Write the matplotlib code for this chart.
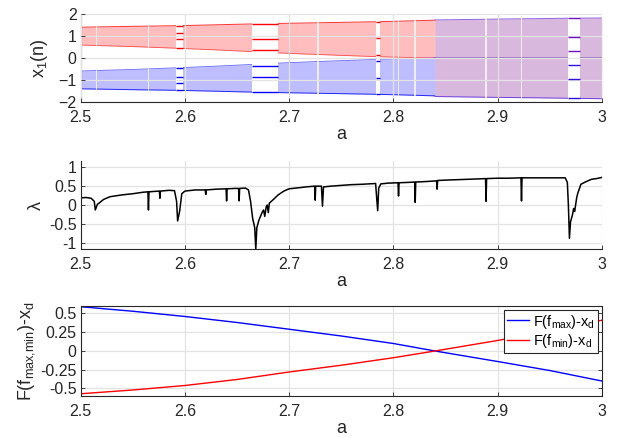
import matplotlib
matplotlib.use("Agg")
import matplotlib.pyplot as plt
import numpy as np

plt.rcParams['font.family'] = ['Liberation Sans', 'DejaVu Sans']
plt.rcParams['mathtext.fontset'] = 'custom'
plt.rcParams['mathtext.rm'] = 'Liberation Sans'
plt.rcParams['mathtext.it'] = 'Liberation Sans:italic'

# ---------------- data ----------------
x_ticks = [2.5, 2.6, 2.7, 2.8, 2.9, 3.0]
x_ticklabels = ['2.5', '2.6', '2.7', '2.8', '2.9', '3']

# top panel: chaotic band envelopes before merging
red_a = [2.50, 2.55, 2.595, 2.63, 2.665, 2.70, 2.75, 2.785, 2.81, 2.84]
red_top = [1.40, 1.44, 1.47, 1.51, 1.55, 1.58, 1.62, 1.65, 1.68, 1.72]
red_bot = [0.59, 0.52, 0.44, 0.37, 0.29, 0.21, 0.12, 0.06, 0.03, 0.00]
blue_top = [-0.59, -0.52, -0.44, -0.37, -0.29, -0.21, -0.12, -0.06, -0.03, 0.00]
blue_bot = [-1.40, -1.44, -1.47, -1.51, -1.55, -1.58, -1.62, -1.65, -1.68, -1.72]
# after merging crisis
merged_a = [2.84, 2.87, 2.90, 2.94, 2.968, 3.00]
merged_top = [1.73, 1.75, 1.77, 1.79, 1.81, 1.82]
merged_bot = [-1.75, -1.77, -1.79, -1.81, -1.83, -1.85]
# periodic windows
win_start = [2.591, 2.664, 2.7835, 2.968]
win_end = [2.598, 2.689, 2.7875, 2.979]
win_levels = [[1.47, 1.15, 0.88, 0.47],
              [1.53, 0.88, 0.36],
              [1.65, 0.90, 0.12],
              [1.81, 0.94, 0.32]]
# thin white gaps (narrow windows)
thin_gaps = [2.515, 2.565, 2.728, 2.805, 2.821, 2.889, 2.923]

# middle panel: Lyapunov exponent
lyap_a = [2.500, 2.505, 2.510, 2.513, 2.514, 2.516, 2.518, 2.522, 2.528, 2.535,
          2.540, 2.550, 2.560, 2.5645, 2.565, 2.5655, 2.570, 2.5755, 2.576, 2.5765,
          2.585, 2.590, 2.592, 2.593, 2.595, 2.597, 2.600, 2.610, 2.6195, 2.620,
          2.6205, 2.630, 2.6395, 2.640, 2.6405, 2.648, 2.6515, 2.652, 2.6525, 2.658,
          2.661, 2.663, 2.665, 2.667, 2.668, 2.669, 2.671, 2.674, 2.6755, 2.6766,
          2.678, 2.679, 2.680, 2.681, 2.685, 2.6895, 2.695, 2.700, 2.710, 2.716,
          2.7245, 2.725, 2.7255, 2.731, 2.732, 2.733, 2.740, 2.750, 2.760, 2.770,
          2.783, 2.784, 2.785, 2.786, 2.788, 2.795, 2.8045, 2.805, 2.8055, 2.815,
          2.8205, 2.821, 2.8215, 2.830, 2.8415, 2.842, 2.8425, 2.850, 2.860, 2.870,
          2.880, 2.8885, 2.889, 2.8895, 2.900, 2.910, 2.9225, 2.923, 2.9235, 2.935,
          2.950, 2.965, 2.967, 2.968, 2.969, 2.970, 2.972, 2.973, 2.974, 2.976,
          2.977, 2.980, 2.985, 2.990, 2.995, 3.000]
lyap_v = [0.19, 0.20, 0.18, 0.10, -0.13, 0.02, 0.06, 0.15, 0.22, 0.25,
          0.27, 0.30, 0.34, 0.35, -0.13, 0.35, 0.36, 0.37, 0.18, 0.37,
          0.39, 0.38, 0.10, -0.42, -0.15, 0.30, 0.37, 0.40, 0.40, 0.28,
          0.40, 0.42, 0.43, 0.11, 0.43, 0.44, 0.44, 0.11, 0.44, 0.45,
          0.40, 0.10, -0.35, -0.60, -1.17, -0.60, -0.40, -0.20, -0.13, -0.30,
          -0.05, 0.00, -0.20, 0.05, 0.15, 0.27, 0.37, 0.43, 0.46, 0.48,
          0.50, 0.13, 0.50, 0.50, -0.03, 0.48, 0.50, 0.52, 0.54, 0.55,
          0.57, 0.20, -0.15, 0.45, 0.56, 0.58, 0.59, 0.24, 0.59, 0.60,
          0.61, 0.07, 0.61, 0.62, 0.64, 0.42, 0.65, 0.66, 0.67, 0.68,
          0.69, 0.70, 0.10, 0.70, 0.71, 0.71, 0.72, 0.11, 0.72, 0.72,
          0.72, 0.72, 0.60, 0.00, -0.88, -0.45, -0.25, -0.09, -0.17, 0.20,
          0.31, 0.55, 0.62, 0.68, 0.70, 0.73]

# bottom panel
crit_a = [2.50, 2.55, 2.60, 2.65, 2.70, 2.75, 2.80, 2.84, 2.90, 2.95, 3.00]
fmax_minus_xd = [0.59, 0.53, 0.46, 0.38, 0.29, 0.20, 0.10, 0.00, -0.14, -0.26, -0.40]
fmin_minus_xd = [-0.57, -0.52, -0.46, -0.38, -0.28, -0.19, -0.09, 0.00, 0.14, 0.27, 0.41]

# ---------------- figure ----------------
fig = plt.figure(figsize=(6.19, 4.38), dpi=100)
L, W = 0.1304, 0.8417
ax1 = fig.add_axes([L, 0.7671, W, 0.2009])
ax2 = fig.add_axes([L, 0.4308, W, 0.2016])
ax3 = fig.add_axes([L, 0.0959, W, 0.2055])

dark = '#262626'
gridc = '#e3e3e3'


def style(ax, box=False):
    ax.set_xlim(2.5, 3.0)
    ax.set_xticks(x_ticks)
    ax.set_xticklabels(x_ticklabels)
    ax.tick_params(direction='in', length=3, width=0.6, labelsize=11.5,
                   colors=dark, pad=3, right=box, top=False)
    ax.tick_params(axis='x', pad=5.5)
    ax.grid(True, color=gridc, linewidth=0.9)
    for s in ['left', 'bottom']:
        ax.spines[s].set_color(dark)
        ax.spines[s].set_linewidth(0.8)
    for s in ['top', 'right']:
        if box:
            ax.spines[s].set_color(dark)
            ax.spines[s].set_linewidth(0.8)
        else:
            ax.spines[s].set_visible(False)
    ax.set_xlabel('a', fontsize=13, color=dark, labelpad=1)


# --- top: bifurcation diagram ---
style(ax1)
ax1.set_axisbelow(False)
ax1.set_ylim(-2, 2)
ax1.set_yticks([-2, -1, 0, 1, 2])
ax1.fill_between(red_a, red_bot, red_top, color='red', alpha=0.26, lw=0, zorder=1)
ax1.fill_between(red_a, blue_bot, blue_top, color='blue', alpha=0.26, lw=0, zorder=1)
ax1.fill_between(merged_a, merged_bot, merged_top, color='red', alpha=0.15, lw=0, zorder=1)
ax1.fill_between(merged_a, merged_bot, merged_top, color='blue', alpha=0.15, lw=0, zorder=1)
ax1.plot(red_a, red_top, color='red', lw=0.7, alpha=0.8, zorder=1.1)
ax1.plot(red_a, red_bot, color='red', lw=0.6, alpha=0.6, zorder=1.1)
ax1.plot(red_a, blue_top, color='blue', lw=0.6, alpha=0.6, zorder=1.1)
ax1.plot(red_a, blue_bot, color='blue', lw=0.7, alpha=0.8, zorder=1.1)
ax1.plot(merged_a, merged_top, color='#6020d0', lw=0.7, alpha=0.7, zorder=1.1)
ax1.plot(merged_a, merged_bot, color='#4010e0', lw=0.7, alpha=0.7, zorder=1.1)
ax1.plot([merged_a[0], merged_a[-1]], [0, 0], color='#5a30b0', lw=1.4, alpha=0.5, zorder=1.1)
for g in thin_gaps:
    ax1.axvspan(g - 0.0008, g + 0.0008, color='white', alpha=0.75, lw=0, zorder=1.2)
for a0, a1, lev in zip(win_start, win_end, win_levels):
    ax1.axvspan(a0, a1, color='white', lw=0, zorder=1.2)
    last = a0 == win_start[-1]
    for v in lev:
        ax1.hlines(v, a0, a1, color='#7010c0' if last else 'red', lw=1.0, zorder=3)
        ax1.hlines(-v, a0, a1, color='#3010e0' if last else 'blue', lw=1.0, zorder=3)
ax1.set_ylabel('x$_{\\mathrm{1}}$(n)', fontsize=13, color=dark, labelpad=6)

# --- middle: Lyapunov exponent ---
style(ax2)
ax2.set_ylim(-1.17, 1.165)
ax2.set_yticks([-1, -0.5, 0, 0.5, 1])
ax2.set_yticklabels(['-1', '-0.5', '0', '0.5', '1'])
ax2.plot(lyap_a, lyap_v, color='black', lw=1.1)
ax2.set_ylabel('λ', fontsize=13, color=dark, labelpad=3)

# --- bottom: criterion ---
style(ax3, box=True)
ax3.set_ylim(-0.6, 0.6)
ax3.set_yticks([-0.5, -0.25, 0, 0.25, 0.5])
ax3.set_yticklabels(['-0.5', '-0.25', '0', '0.25', '0.5'])
ax3.plot(crit_a, fmax_minus_xd, color='blue', lw=1.0,
         label='F(f$_{\\mathrm{max}}$)-x$_{\\mathrm{d}}$')
ax3.plot(crit_a, fmin_minus_xd, color='red', lw=1.0,
         label='F(f$_{\\mathrm{min}}$)-x$_{\\mathrm{d}}$')
leg = ax3.legend(loc='upper right', fontsize=10.5, fancybox=False, framealpha=1,
                 edgecolor=dark, borderpad=0.2, handlelength=1.5, handletextpad=0.3,
                 labelspacing=0.1, borderaxespad=0.25)
leg.get_frame().set_linewidth(0.8)
ax3.set_ylabel('F(f$_{\\mathrm{max{,}min}}$)-x$_{\\mathrm{d}}$', fontsize=13, color=dark, labelpad=2)

fig.savefig('out.png', dpi=100)
